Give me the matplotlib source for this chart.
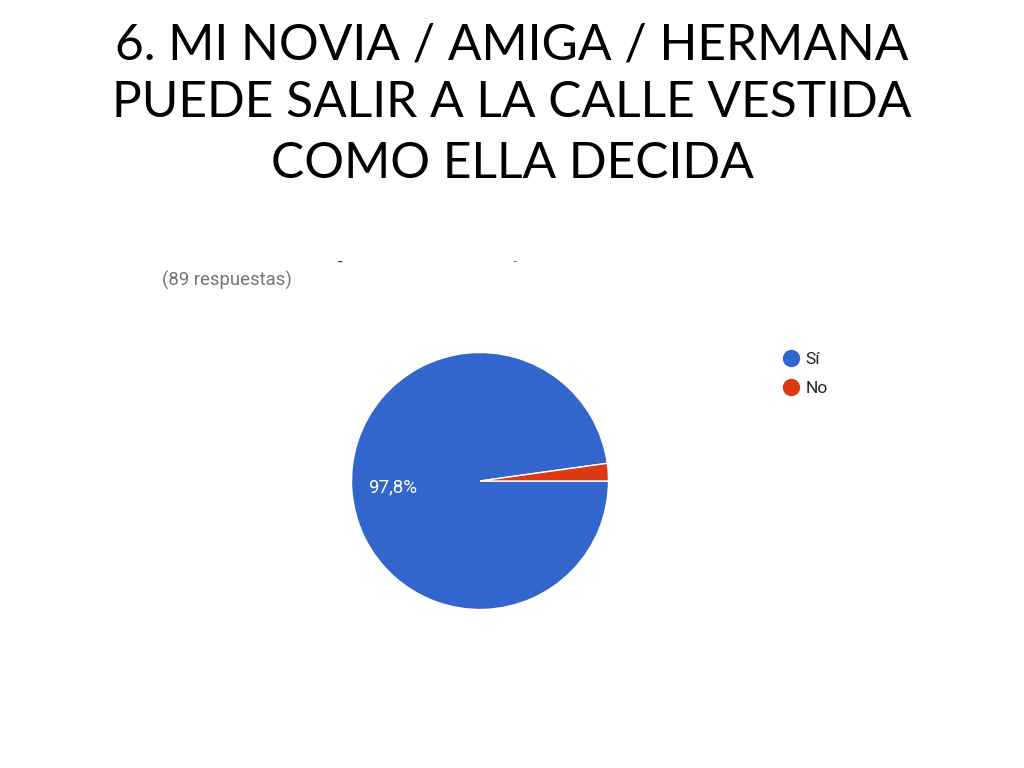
import matplotlib
matplotlib.use("Agg")
import matplotlib.pyplot as plt
from matplotlib.lines import Line2D

title_lines = ["6. MI NOVIA / AMIGA / HERMANA", "PUEDE SALIR A LA CALLE VESTIDA", "COMO ELLA DECIDA"]
categories = ["Sí", "No"]
values = [97.8, 2.2]
colors = ["#3366CC", "#DC3912"]
responses_note = "(89 respuestas)"
pct_label = "97,8%"

W, H = 1024, 768
fig = plt.figure(figsize=(W / 100, H / 100), dpi=100)
fig.patch.set_facecolor("white")

# Title
for i, (line, yc) in enumerate(zip(title_lines, [46, 103, 164])):
    fig.text(0.5, 1 - yc / H, line, ha="center", va="center",
             fontsize=35.8, family=["Lato", "DejaVu Sans"], color="#000000")

# Pie
cx, cy, r = 480, 481, 128.5
ax = fig.add_axes([(cx - r) / W, (H - cy - r) / H, 2 * r / W, 2 * r / H])
wedges, _ = ax.pie(values, colors=colors, startangle=0, counterclock=False,
                   radius=1.0, wedgeprops=dict(edgecolor="white", linewidth=1.0))
ax.set_xlim(-1, 1)
ax.set_ylim(-1, 1)
ax.set_aspect("equal")
ax.axis("off")

fig.text(393 / W, 1 - 487 / H, pct_label, ha="center", va="center",
         fontsize=13.5, color="white", family=["Roboto", "DejaVu Sans"])

fig.text(162 / W, 1 - 280 / H, responses_note, ha="left", va="center",
         fontsize=13.3, color="#757575", family=["Roboto", "DejaVu Sans"])

# small cut-off artifacts at top
fig.text(340 / W, 1 - 262 / H, "-", ha="center", va="center", fontsize=12,
         color="#333333", family=["Roboto", "DejaVu Sans"])
fig.text(515 / W, 1 - 262 / H, "-", ha="center", va="center", fontsize=7,
         color="#333333", family=["Roboto", "DejaVu Sans"])

# Legend
handles = [Line2D([0], [0], marker="o", linestyle="none", markersize=11.5,
                  markerfacecolor=c, markeredgecolor=c) for c in colors]
leg = fig.legend(handles, categories, loc="upper left",
                 bbox_to_anchor=(764 / W, 1 - 336 / H), frameon=False,
                 handletextpad=0.2, labelspacing=0.83, handlelength=1.3,
                 prop={"family": ["Roboto", "DejaVu Sans"], "size": 12.5})
for t in leg.get_texts():
    t.set_color("#222222")

fig.savefig("out.png", dpi=100, facecolor="white")
